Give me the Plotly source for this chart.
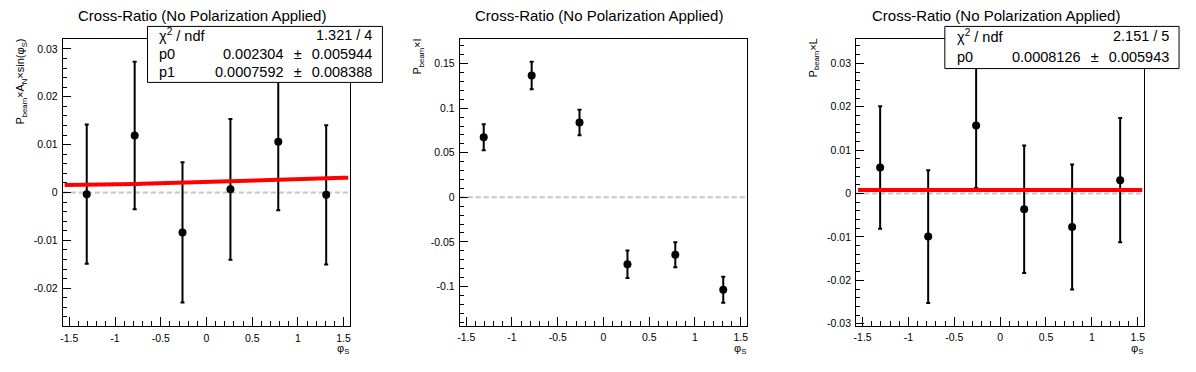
import math
import plotly.graph_objects as go

W, H = 1196, 372

# ---------------- data ----------------
phi_s = [-1.309, -0.785, -0.262, 0.262, 0.785, 1.309]

an_vals = [-0.00035, 0.0119, -0.00835, 0.00065, 0.0106, -0.0005]
an_errs = [0.01455, 0.0154, 0.01465, 0.0147, 0.0143, 0.01455]

i_vals = [0.0674, 0.1368, 0.0840, -0.0752, -0.0645, -0.1038]
i_errs = [0.0146, 0.0154, 0.0143, 0.0154, 0.0139, 0.0145]

l_vals = [0.0060, -0.0099, 0.0157, -0.0036, -0.0077, 0.0031]
l_errs = [0.0141, 0.0153, 0.0144, 0.0147, 0.0144, 0.0143]

# fit results (from the stats boxes): left p0 + p1*sin(phi_S), right p0
fit_left_p0 = 0.002304
fit_left_p1 = 0.0007592
fit_right_p0 = 0.0008126
fit_lo, fit_hi = -1.55, 1.55

titles = ["Cross-Ratio (No Polarization Applied)"] * 3
ytitles = ["P<sub>beam</sub>×A<sub>N</sub>×sin(φ<sub>S</sub>)",
           "P<sub>beam</sub>×I",
           "P<sub>beam</sub>×L"]
xtitle = "φ<sub>S</sub>"

x_tickvals = [-1.5, -1, -0.5, 0, 0.5, 1, 1.5]
x_ticktext = ["-1.5", "-1", "-0.5", "0", "0.5", "1", "1.5"]

y_tickvals = [
    [-0.02, -0.01, 0, 0.01, 0.02, 0.03],
    [-0.1, -0.05, 0, 0.05, 0.1, 0.15],
    [-0.03, -0.02, -0.01, 0, 0.01, 0.02, 0.03],
]
y_ticktext = [
    ["-0.02", "-0.01", "0", "0.01", "0.02", "0.03"],
    ["-0.1", "-0.05", "0", "0.05", "0.1", "0.15"],
    ["-0.03", "-0.02", "-0.01", "0", "0.01", "0.02", "0.03"],
]
y_ranges = [[-0.0280, 0.0321], [-0.1442, 0.1778], [-0.03045, 0.03564]]
y_minor = [0.002, 0.01, 0.002]

PM = "\u2002\u2009±\u2002\u2009"
stats_left = [("χ<sup>2</sup> / ndf", "1.321 / 4"),
              ("p0", "0.002304" + PM + "0.005944"),
              ("p1", "0.0007592" + PM + "0.008388")]
stats_right = [("χ<sup>2</sup> / ndf", "2.151 / 5"),
               ("p0", "0.0008126" + PM + "0.005943")]

# ---------------- layout geometry (pixels) ----------------
frames = [(60, 348.3, 39.3, 330.0),
          (458.3, 746.7, 39.3, 329.3),
          (856.0, 1145.0, 39.3, 329.3)]
FONT = "Liberation Sans, Arial, Helvetica, sans-serif"


def px(x):
    return x / W


def py(y):
    return 1 - y / H


fig = go.Figure()
layout = dict(width=W, height=H, margin=dict(l=0, r=0, t=0, b=0),
              paper_bgcolor="white", plot_bgcolor="white", showlegend=False,
              font=dict(family=FONT, color="black"))
shapes = []
annotations = []

data_sets = [(an_vals, an_errs), (i_vals, i_errs), (l_vals, l_errs)]

for k, (x0, x1, y0, y1) in enumerate(frames):
    sfx = "" if k == 0 else str(k + 1)
    xa, ya = "x" + sfx, "y" + sfx
    layout["xaxis" + sfx] = dict(
        domain=[px(x0), px(x1)], anchor=ya, range=[-math.pi / 2, math.pi / 2],
        tickmode="array", tickvals=x_tickvals, ticktext=x_ticktext,
        ticks="inside", ticklen=9, tickwidth=1, tickcolor="black",
        minor=dict(ticks="inside", ticklen=5, tickwidth=1, tickcolor="black",
                   tickmode="linear", tick0=0, dtick=0.1, showgrid=False),
        showline=True, linecolor="black", linewidth=1, mirror=True,
        showgrid=False, zeroline=False, fixedrange=True,
        tickfont=dict(size=10.5, family=FONT, color="black"),
        ticklabelstandoff=2,
    )
    layout["yaxis" + sfx] = dict(
        domain=[py(y1), py(y0)], anchor=xa, range=y_ranges[k],
        tickmode="array", tickvals=y_tickvals[k], ticktext=y_ticktext[k],
        ticks="inside", ticklen=8, tickwidth=1, tickcolor="black",
        minor=dict(ticks="inside", ticklen=4, tickwidth=1, tickcolor="black",
                   tickmode="linear", tick0=0, dtick=y_minor[k], showgrid=False),
        showline=True, linecolor="black", linewidth=1, mirror=True,
        showgrid=False, zeroline=False, fixedrange=True,
        tickfont=dict(size=10.5, family=FONT, color="black"),
        ticklabelstandoff=2,
    )
    # dashed zero line
    shapes.append(dict(type="line", xref=xa + " domain", yref=ya, x0=0, x1=1,
                       y0=0, y1=0, layer="below",
                       line=dict(color="#c4c4c4", width=2, dash="5px,3px")))

    vals, errs = data_sets[k]
    fig.add_trace(go.Scatter(
        x=phi_s, y=vals, mode="markers", xaxis=xa, yaxis=ya,
        marker=dict(color="black", size=8, symbol="circle"),
        error_y=dict(type="data", array=errs, visible=True, color="black",
                     thickness=2, width=2),
        hoverinfo="skip"))

    pad_center = 199.3 + 398.67 * k
    annotations.append(dict(text=titles[k], x=px(pad_center), y=py(15.5),
                            xref="paper", yref="paper", xanchor="center",
                            yanchor="middle", showarrow=False,
                            font=dict(size=15, family=FONT, color="black")))
    annotations.append(dict(text=ytitles[k], x=px(x0 - 42), y=py(37),
                            xref="paper", yref="paper", xanchor="center",
                            yanchor="top", textangle=-90, showarrow=False,
                            font=dict(size=11, family=FONT, color="black")))
    annotations.append(dict(text=xtitle, x=px(x1 + 1), y=py(343.5),
                            xref="paper", yref="paper", xanchor="right",
                            yanchor="top", showarrow=False,
                            font=dict(size=11, family=FONT, color="black")))

# fit curves (evaluated from the fitted parameters)
n_fit = 60
fx = [fit_lo + (fit_hi - fit_lo) * i / (n_fit - 1) for i in range(n_fit)]
fig.add_trace(go.Scatter(
    x=fx, y=[fit_left_p0 + fit_left_p1 * math.sin(v) for v in fx], mode="lines",
    xaxis="x", yaxis="y", line=dict(color="#ff0000", width=4), hoverinfo="skip"))
fig.add_trace(go.Scatter(
    x=[fit_lo, fit_hi], y=[fit_right_p0, fit_right_p0], mode="lines",
    xaxis="x3", yaxis="y3", line=dict(color="#ff0000", width=4), hoverinfo="skip"))


def stats_box(x0, x1, y0, y1, rows, centers, lab_x, val_x):
    shapes.append(dict(type="rect", xref="paper", yref="paper",
                       x0=px(x0), x1=px(x1), y0=py(y1), y1=py(y0),
                       fillcolor="white", line=dict(color="black", width=1),
                       layer="above"))
    for (lab, val), cy in zip(rows, centers):
        annotations.append(dict(text=lab, x=px(lab_x), y=py(cy), xref="paper",
                                yref="paper", xanchor="left", yanchor="middle",
                                showarrow=False,
                                font=dict(size=14.5, family=FONT, color="black")))
        annotations.append(dict(text=val, x=px(val_x), y=py(cy), xref="paper",
                                yref="paper", xanchor="right", yanchor="middle",
                                showarrow=False,
                                font=dict(size=14.5, family=FONT, color="black")))


stats_box(145, 380.7, 26.7, 83.3, stats_left, [35.5, 54.5, 73], 155, 372)
stats_box(945, 1180, 26.7, 69.3, stats_right, [36.5, 57.5], 955, 1172)

layout["shapes"] = shapes
layout["annotations"] = annotations
fig.update_layout(**layout)

fig.write_html("out.html", config={"displayModeBar": False},
               post_script="document.body.style.margin='0';document.body.style.overflow='hidden';")
